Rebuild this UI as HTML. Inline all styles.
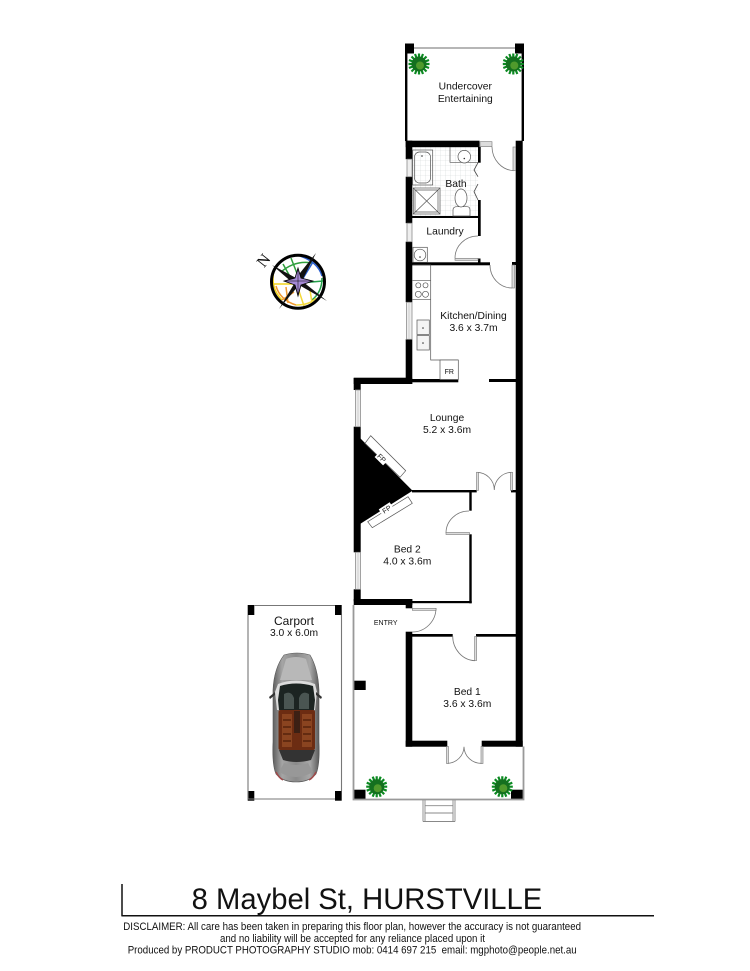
<!DOCTYPE html>
<html><head><meta charset="utf-8"><style>
html,body{margin:0;padding:0;background:#fff;width:750px;height:971px;overflow:hidden}
svg{display:block;filter:blur(.35px)}
text{font-family:"Liberation Sans",sans-serif;fill:#111;text-anchor:middle}
</style></head><body>
<svg xmlns="http://www.w3.org/2000/svg" width="750" height="971" viewBox="0 0 750 971">
<defs>
<pattern id="tile" width="5" height="5" patternUnits="userSpaceOnUse"><path d="M5 0H0V5" fill="none" stroke="#d4d8d8" stroke-width=".6"/></pattern>
<linearGradient id="body" x1="0" x2="1" y1="0" y2="0"><stop offset="0" stop-color="#5e5e5e"/><stop offset=".2" stop-color="#a5a5a5"/><stop offset=".5" stop-color="#8a8a8a"/><stop offset=".8" stop-color="#a8a8a8"/><stop offset="1" stop-color="#5a5a5a"/></linearGradient>
<g id="plant">
<g stroke="#0c8a22" stroke-width="2.2">
<path d="M-10.5 0H10.5M0-10.5V10.5M-7.5-7.5L7.5 7.5M-7.5 7.5L7.5-7.5M-10-4L10 4M-10 4L10-4M-4-10L4 10M4-10L-4 10"/>
</g>
<circle r="7.5" fill="#14701f"/><circle r="4" cx="1" cy="1.5" fill="#4f9a2c"/>
</g>
</defs>

<!-- tiled bath floor -->
<rect x="412" y="147" width="66" height="69" fill="url(#tile)"/>

<!-- black walls -->
<g fill="#000">
<rect x="405" y="43.5" width="9" height="10"/><rect x="515" y="43.5" width="9" height="10"/>
<rect x="405" y="53" width="2.4" height="88"/><rect x="521.6" y="53" width="2.4" height="88"/>
<rect x="405.7" y="140.7" width="73.8" height="6.5"/>
<rect x="405.7" y="140.7" width="6.6" height="18.5"/>
<rect x="405.7" y="176.7" width="6.6" height="46.5"/>
<rect x="405.7" y="241.7" width="6.6" height="60.5"/>
<rect x="405.7" y="339.3" width="6.6" height="44.7"/>
<rect x="515.7" y="140.7" width="7" height="606"/>
<rect x="478" y="147" width="2.7" height="15.7"/><rect x="478" y="200" width="2.7" height="36"/>
<rect x="412" y="216" width="68" height="2"/>
<rect x="412" y="262.3" width="78" height="3"/>
<rect x="478" y="258.5" width="2.5" height="5"/>
<rect x="512" y="262" width="4" height="3"/>
<rect x="353.7" y="377.7" width="58.5" height="6.3"/>
<rect x="412" y="379" width="46.3" height="3.3"/>
<rect x="489" y="379" width="27" height="3"/>
<rect x="353.7" y="378" width="7" height="12"/>
<rect x="353.7" y="426.7" width="7" height="125.6"/>
<rect x="353.7" y="589.3" width="7" height="12"/>
<polygon points="360,438 412.6,490.7 360,524"/>
<rect x="412" y="490" width="64.7" height="2.4"/>
<rect x="511" y="490" width="5" height="2.4"/>
<rect x="469.3" y="492" width="2.4" height="18.7"/>
<rect x="469.3" y="534.3" width="2.4" height="69"/>
<rect x="412" y="601" width="59.7" height="2.2"/>
<rect x="353.7" y="599" width="58.6" height="6"/>
<rect x="405.7" y="599" width="6.6" height="9.3"/>
<rect x="405.7" y="631.7" width="6.6" height="115"/>
<rect x="412" y="634" width="40.7" height="2.7"/>
<rect x="476" y="634" width="40" height="2.7"/>
<rect x="405.7" y="740.7" width="41.6" height="6"/>
<rect x="481.7" y="740.7" width="41" height="6"/>
<rect x="353" y="680.7" width="12.7" height="9.3"/>
<rect x="353" y="789.7" width="12.5" height="9.5"/>
<rect x="511" y="789.7" width="13" height="9.5"/>
<rect x="247.7" y="605" width="6.6" height="10"/><rect x="335" y="605" width="6.7" height="10"/>
<rect x="247.7" y="791" width="6.6" height="9.7"/><rect x="335" y="791" width="6.7" height="9.7"/>
</g>

<!-- thin grey outlines -->
<g fill="none" stroke="#8a8a8a" stroke-width="1">
<path d="M414 48H515" stroke-width="1.2"/>
<path d="M353.5 605V799.5H523.5V746.5" stroke-width="1.8" stroke="#999"/>
<path d="M248 615V799H335M341.5 615V791M254 605.5H335" stroke-width="1.1" stroke="#777"/>
</g>

<!-- windows -->
<g fill="#eee" stroke="#8c8c8c" stroke-width=".8">
<rect x="407" y="159.2" width="5" height="17.5"/>
<rect x="407" y="223.2" width="5" height="18.5"/>
<rect x="406.5" y="302.3" width="5.5" height="37"/>
<rect x="355.5" y="390" width="5" height="36.7"/>
<rect x="355.5" y="552.3" width="5" height="37"/>
</g>
<path d="M409 302.3V339.3M358 390V426.7M358 552.3V589.3" stroke="#bbb" stroke-width=".6"/>

<!-- doors -->
<g fill="none" stroke="#777" stroke-width=".8">
<path d="M492 147A23 24 0 0 0 514 170.7"/>
<path d="M490 265A22 23 0 0 0 512 288"/>
<path d="M455 258A23 22 0 0 1 478 236"/>
<path d="M476.7 472.3A17.6 17.7 0 0 1 494.3 490A17.6 17.7 0 0 1 511.7 472.3"/>
<path d="M446 533A23 22 0 0 1 469 511"/>
<path d="M436 608A24 24 0 0 1 412 632"/>
<path d="M452.7 636A23 24.7 0 0 0 475 660.7"/>
<path d="M447.3 763.3A17 17 0 0 0 464 746.7A17 17 0 0 0 481.7 763.3"/>
<path d="M478 162.7L474 170L478 176.7M478 184L474 191.7L478 200" stroke="#444"/>
</g>
<g fill="#ddd" stroke="#777" stroke-width=".6">
<rect x="480" y="141.7" width="12" height="5"/>
<rect x="513" y="147" width="2.7" height="23.7"/>
<rect x="455" y="258.3" width="23" height="2"/>
<rect x="512" y="265" width="2.5" height="23"/>
<rect x="476.5" y="472.3" width="2" height="18"/>
<rect x="510.5" y="472.3" width="2" height="18"/>
<rect x="446" y="532.5" width="23.5" height="2"/>
<rect x="412.3" y="608.3" width="23.7" height="2"/>
<rect x="474.6" y="636.5" width="2" height="24"/>
<rect x="446.5" y="746.5" width="2" height="17"/>
<rect x="481" y="746.5" width="2" height="17"/>
</g>

<!-- fixtures -->
<g fill="#fff" stroke="#555" stroke-width=".7">
<rect x="412.7" y="150" width="20" height="35" fill="none"/>
<rect x="414.5" y="152" width="16" height="31" rx="5" fill="none"/>
<rect x="413.3" y="188" width="26.7" height="26" fill="#fff"/>
<path d="M413.3 188L440 214M440 188L413.3 214M415 190H438V212H415Z" fill="none"/>
<path d="M450 147V162.3H478" fill="none"/>
<circle cx="464.3" cy="156.7" r="6.3"/>
<path d="M453 216V210Q453 206.7 457 206.7H467Q470 206.7 470 210V216Z"/>
<ellipse cx="461" cy="198" rx="6" ry="9"/>
<rect x="413" y="247.3" width="14.3" height="15"/>
<circle cx="420" cy="255" r="5.8"/>
<path d="M412.5 265H430.7V360H458.3" fill="none"/>
<path d="M412.5 280.7H430.7M412.5 299.3H430.7" fill="none"/>
<circle cx="418.3" cy="285.3" r="2.5"/><circle cx="425.5" cy="285.3" r="2.5"/>
<circle cx="418.3" cy="294.3" r="3"/><circle cx="425.5" cy="294.3" r="3"/>
<rect x="417" y="320" width="12.3" height="14.5" fill="#f4f4f4"/>
<rect x="417" y="335.5" width="12.3" height="14.5" fill="#f4f4f4"/>
<rect x="440" y="360" width="18.3" height="19.5" fill="#fff"/>
<polygon points="365,443.3 370.7,435.7 405.7,470.7 400,477.3"/>
<polygon points="408,496.7 412.3,503.3 372.3,527.7 367.7,521.7"/>
</g>
<g fill="#333"><circle cx="422" cy="156" r=".8"/><circle cx="464.3" cy="158.5" r=".8"/><circle cx="420" cy="257" r=".8"/><circle cx="423" cy="328" r=".8"/><circle cx="423" cy="343" r=".8"/></g>

<!-- steps -->
<path d="M423 800V821.5M455 800V821.5M425 800V821.5M453 800V821.5M423 821.5H455M425 805.7H453M425 813H453" fill="none" stroke="#888" stroke-width=".9"/>

<!-- plants -->
<use href="#plant" x="419" y="64"/><use href="#plant" x="513.3" y="64"/>
<use href="#plant" x="376.7" y="786.7"/><use href="#plant" x="502.3" y="786.7"/>

<!-- compass -->
<g fill="none" stroke-width="1.5">
<path d="M281 272Q295 260 312 263" stroke="#2e9e3c"/><path d="M283 264L293 282M291 258L298 276" stroke="#2e9e3c"/>
<path d="M300 256Q318 262 322 276M313 262L302 280" stroke="#2a5fd0"/>
<path d="M322 278Q322 292 312 300M300 283L323 281" stroke="#22a04a"/>
<path d="M274 270Q270 288 282 300M272 284L294 284" stroke="#f2d31a"/>
<path d="M276 286Q280 300 296 305M282 300L294 292M286 287L288 303" stroke="#f09a30"/>
<path d="M296 305Q310 305 316 298M298 288L304 306M310 290L312 303" stroke="#f3d93a"/>
</g>
<circle cx="298" cy="281.7" r="26.5" fill="none" stroke="#000" stroke-width="3"/>
<polygon points="272,265 296,278 316,253 302,281 327,301 299,285 279,309 294,284" fill="#111"/>
<polygon points="298,268 301,278 313,281 301,285 298,296 295,285 284,281 295,278" fill="#a58ad6" stroke="#000" stroke-width=".8"/>
<path d="M298 268V296M284 281H313" stroke="#000" stroke-width=".5"/>
<text x="263" y="266" font-size="16" transform="rotate(-52 263 260)" style="font-family:'Liberation Serif',serif" fill="#333">N</text>

<!-- car -->
<g>
<path d="M284 655Q297 651 310 655Q318 668 319 690V742Q320 765 316 774Q309 782 296 782Q283 782 276 774Q272 765 273 742V690Q274 668 284 655Z" fill="url(#body)" stroke="#555" stroke-width=".6"/>
<path d="M286 659Q296 655 306 659L312 680H280Z" fill="#b8b8b8"/>
<path d="M278 684Q296 677 315 684L317 692L315 710H277L275 692Z" fill="#dcdcdc"/>
<path d="M280 686Q296 681 313 686L315 700L314 710H279L278 700Z" fill="#1c2422"/>
<path d="M284 694Q291 690 294 698V709H284ZM299 698Q302 690 309 694V709H299Z" fill="#4a5552"/>
<path d="M269 697L275 692L275 695L270 699ZM322 697L316 692L316 695L321 699Z" fill="#333"/>
<rect x="278.5" y="710" width="36.5" height="40" rx="2" fill="#6c2c12"/>
<path d="M282 714H292V747H282ZM302 714H312V747H302Z" fill="#8a4420"/>
<path d="M283 720H291M283 727H291M283 734H291M283 741H291M303 720H311M303 727H311M303 734H311M303 741H311" stroke="#4c1c08" stroke-width="1.2"/>
<rect x="294" y="711" width="6" height="22" fill="#3c2014"/>
<path d="M279 750H315L311 760Q296 764 283 760Z" fill="#333"/>
<path d="M284 763Q296 767 308 763L313 772Q296 782 279 772Z" fill="#989898"/>
<path d="M276 772Q279 778 283 780M316 772Q313 778 309 780" stroke="#a04a4a" stroke-width="1.5" fill="none"/>
</g>

<!-- labels -->
<g font-size="10.3">
<text x="465.3" y="89.5">Undercover</text>
<text x="465.3" y="101.8">Entertaining</text>
<text x="456" y="186.8">Bath</text>
<text x="445" y="234.7">Laundry</text>
<text x="473.5" y="319">Kitchen/Dining</text>
<text x="473.5" y="330.8">3.6 x 3.7m</text>
<text x="447" y="420.8">Lounge</text>
<text x="447" y="432.8">5.2 x 3.6m</text>
<text x="407.3" y="552.4">Bed 2</text>
<text x="407.3" y="564.4">4.0 x 3.6m</text>
<text x="467.3" y="695">Bed 1</text>
<text x="467.3" y="706.8">3.6 x 3.6m</text>
<text x="294" y="635.8">3.0 x 6.0m</text>
</g>
<text x="294" y="625" font-size="12">Carport</text>
<text x="449.3" y="374" font-size="7">FR</text>
<text x="385.7" y="625.2" font-size="7">ENTRY</text>
<rect x="376" y="453.5" width="12" height="9" fill="#fff" transform="rotate(45 382 458)"/>
<rect x="380" y="505" width="13" height="8.5" fill="#fff" transform="rotate(-33 386.7 509.3)"/>
<text x="381.7" y="460.5" font-size="7" transform="rotate(45 381.7 458)">FP</text>
<text x="386.7" y="511.8" font-size="7" transform="rotate(-33 386.7 509.3)">FP</text>

<!-- title block -->
<path d="M122 884V916M121.4 915.8H654" stroke="#111" stroke-width="1.5" fill="none"/>
<text x="191.7" y="909" font-size="29.2" textLength="350.6" lengthAdjust="spacingAndGlyphs" style="text-anchor:start">8 Maybel St, HURSTVILLE</text>
<text x="123.3" y="930" font-size="10.9" textLength="457.7" lengthAdjust="spacingAndGlyphs" style="text-anchor:start">DISCLAIMER: All care has been taken in preparing this floor plan, however the accuracy is not guaranteed</text>
<text x="220" y="942" font-size="10.9" textLength="265" lengthAdjust="spacingAndGlyphs" style="text-anchor:start">and no liability will be accepted for any reliance placed upon it</text>
<text x="127.7" y="953.5" font-size="10.9" textLength="449" lengthAdjust="spacingAndGlyphs" xml:space="preserve" style="text-anchor:start;white-space:pre">Produced by PRODUCT PHOTOGRAPHY STUDIO mob: 0414 697 215  email: mgphoto@people.net.au</text>
</svg>
</body></html>
